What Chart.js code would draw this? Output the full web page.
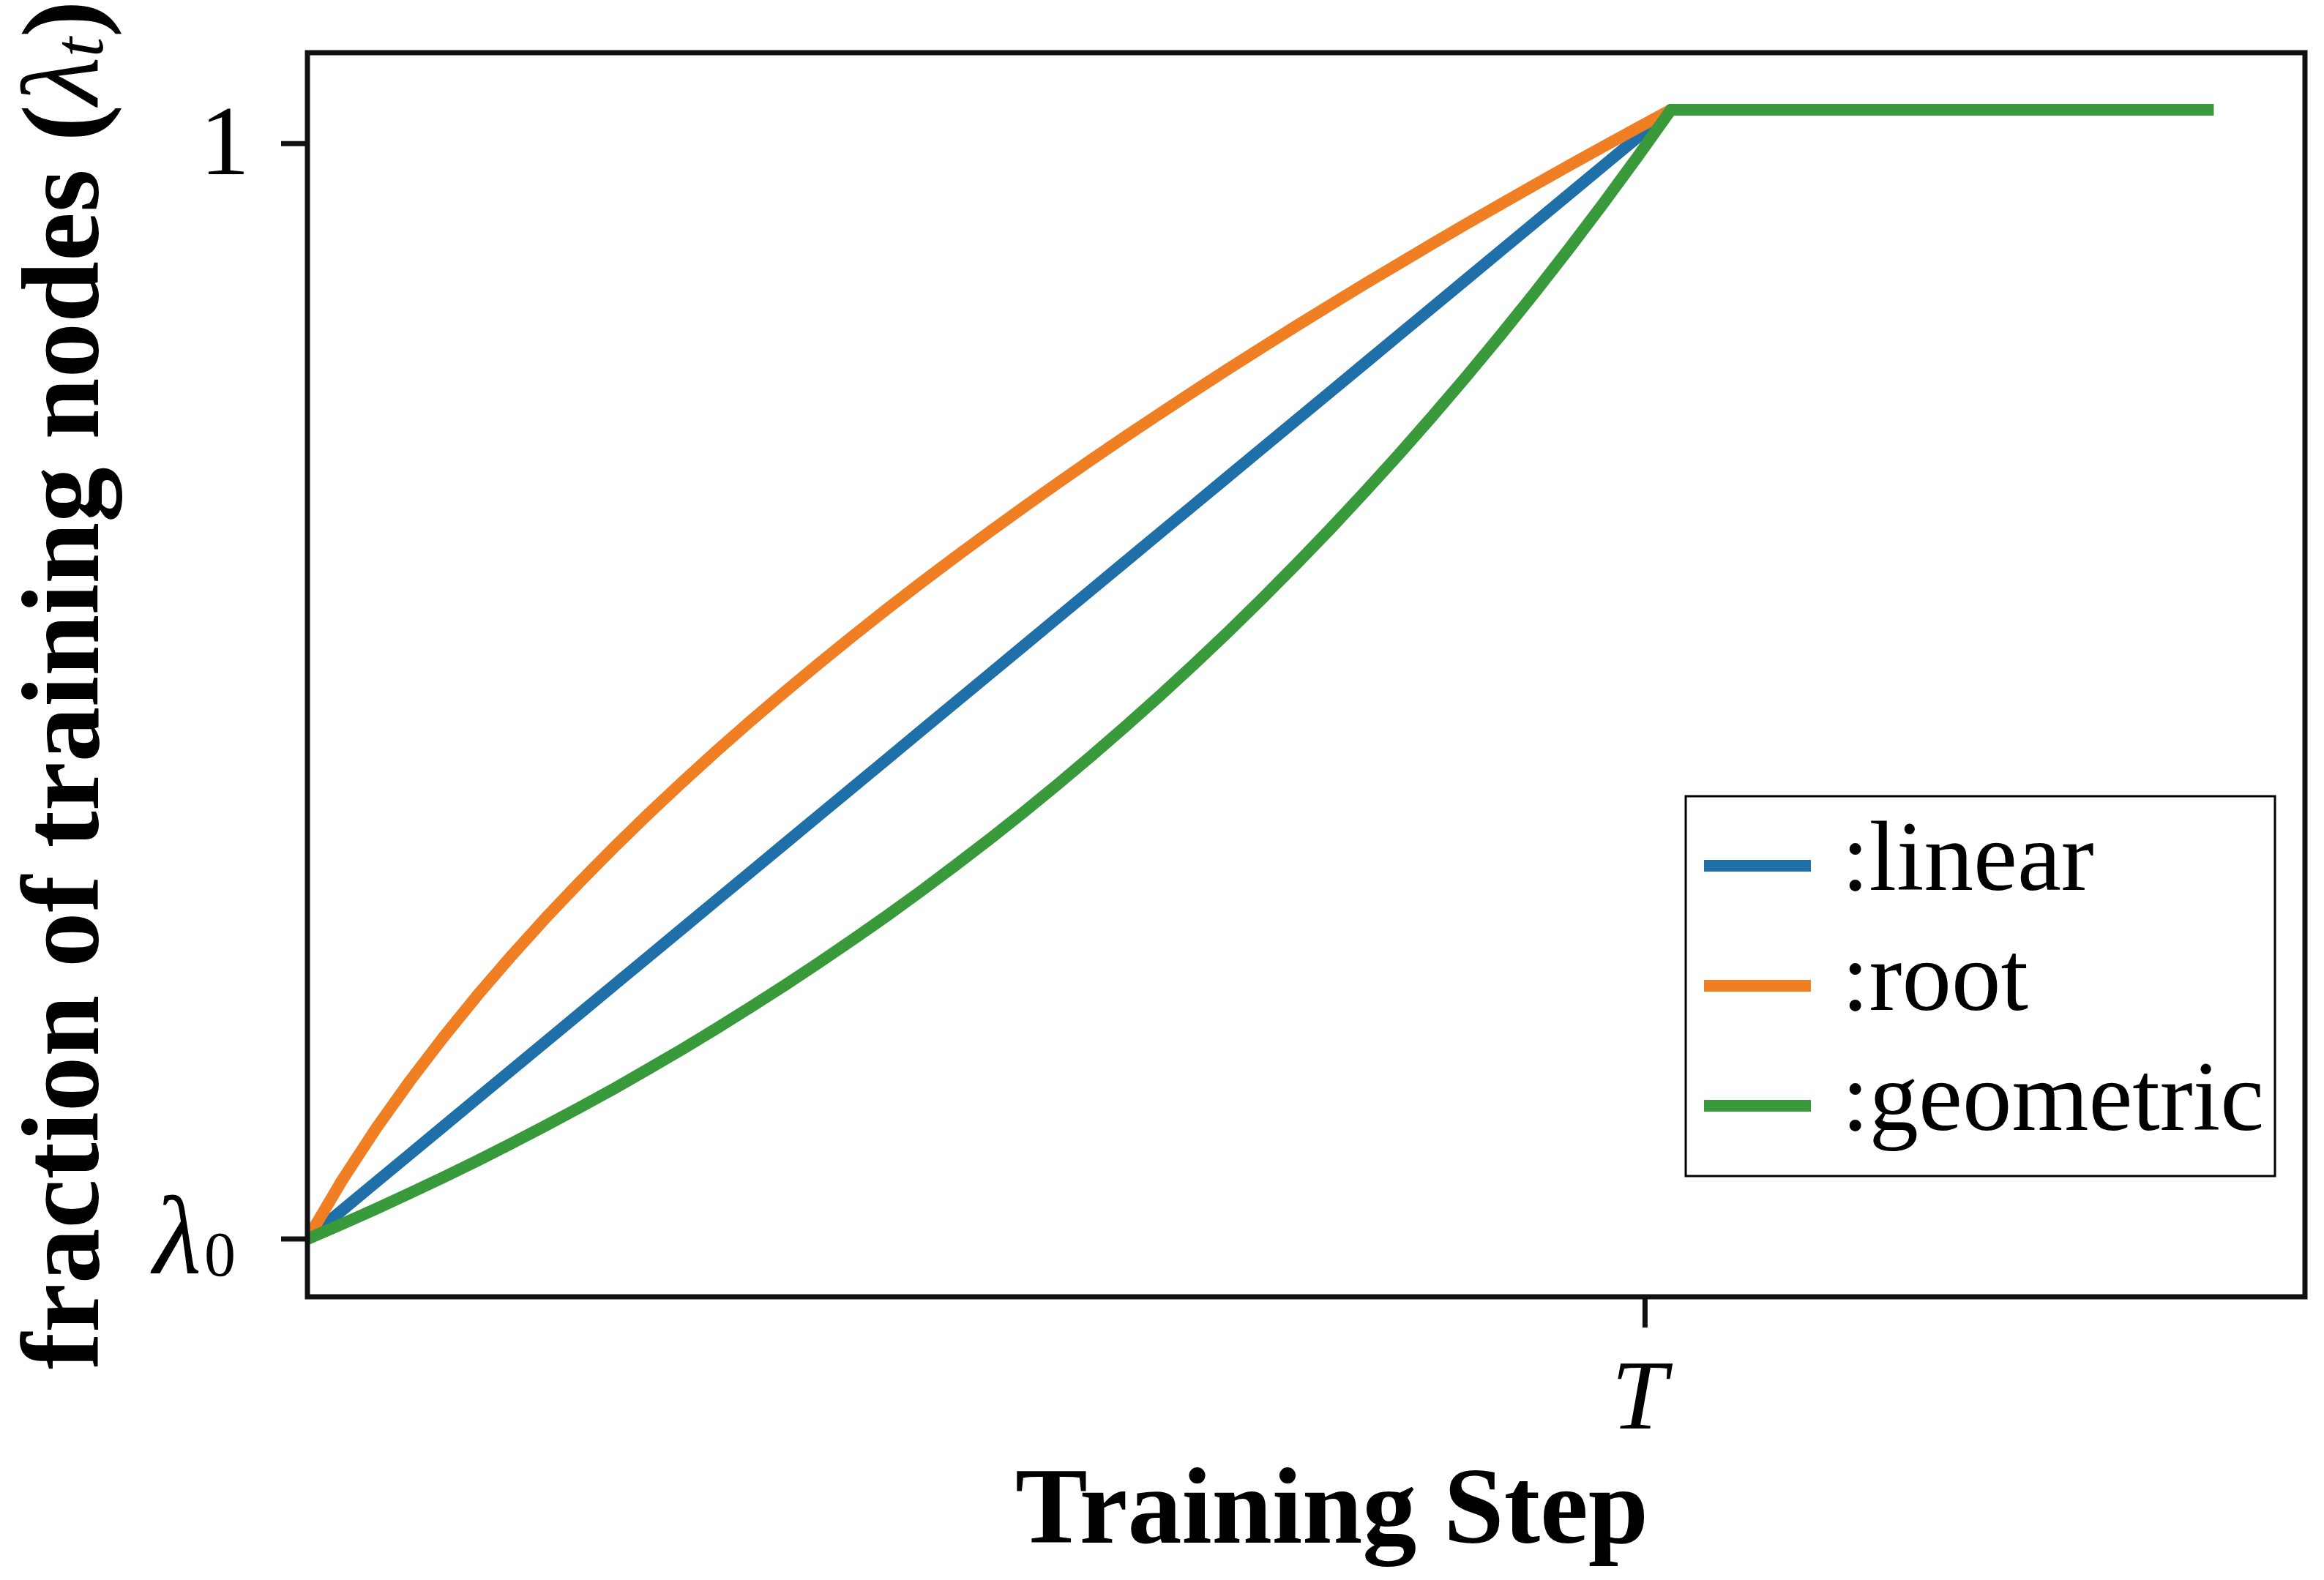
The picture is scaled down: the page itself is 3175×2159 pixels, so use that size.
<!DOCTYPE html>
<html>
<head>
<meta charset="utf-8">
<script src="https://cdn.jsdelivr.net/npm/chart.js@4.4.0/dist/chart.umd.min.js"></script>
<style>
  html, body { margin: 0; padding: 0; background: #fff; }
  #wrap { width: 3175px; height: 2159px; }
</style>
</head>
<body>
<div id="wrap"><canvas id="canvas" width="3175" height="2159"></canvas></div>
<script>
"use strict";

// training steps (kink at step 1000, flat part runs to the end)
var steps = [0, 25, 50, 75, 100, 125, 150, 175, 200, 225, 250, 275, 300, 325, 350, 375, 400,
             425, 450, 475, 500, 525, 550, 575, 600, 625, 650, 675, 700, 725, 750, 775, 800,
             825, 850, 875, 900, 925, 950, 975, 1000, 1398];

var linearVals = [0.300, 0.3175, 0.335, 0.3525, 0.370, 0.3875, 0.405, 0.4225, 0.440, 0.4575, 0.475,
                  0.4925, 0.510, 0.5275, 0.545, 0.5625, 0.580, 0.5975, 0.615, 0.6325, 0.650,
                  0.6675, 0.685, 0.7025, 0.720, 0.7375, 0.755, 0.7725, 0.790, 0.8075, 0.825,
                  0.8425, 0.860, 0.8775, 0.895, 0.9125, 0.930, 0.9475, 0.965, 0.9825, 1.000, 1.000];
var rootVals = [0.300, 0.3358, 0.3681, 0.3978, 0.4254, 0.4514, 0.4759, 0.4993, 0.5215, 0.5429, 0.5635,
                0.5833, 0.6025, 0.6211, 0.6391, 0.6567, 0.6738, 0.6905, 0.7068, 0.7227, 0.7382,
                0.7535, 0.7684, 0.7831, 0.7975, 0.8116, 0.8255, 0.8392, 0.8526, 0.8659, 0.8789,
                0.8918, 0.9044, 0.9169, 0.9293, 0.9414, 0.9534, 0.9653, 0.9770, 0.9886, 1.000, 1.000];
var geometricVals = [0.300, 0.3092, 0.3186, 0.3284, 0.3384, 0.3487, 0.3594, 0.3704, 0.3817, 0.3933, 0.4054,
                     0.4177, 0.4305, 0.4437, 0.4572, 0.4712, 0.4856, 0.5004, 0.5157, 0.5315, 0.5477,
                     0.5644, 0.5817, 0.5995, 0.6178, 0.6366, 0.6561, 0.6761, 0.6968, 0.7181, 0.7400,
                     0.7627, 0.7860, 0.8100, 0.8347, 0.8602, 0.8865, 0.9136, 0.9415, 0.9703, 1.000, 1.000];

var seriesLabels = [':linear', ':root', ':geometric'];
var seriesColors = ['#1f6fa8', '#ef7f22', '#389a3a'];

var yTickValues = [0.3, 0.979];
var yTickLabels = [['λ', '0'], ['1', '']];
var xTickValues = [981];
var xTickLabels = ['T'];

var serif = "'Liberation Serif', 'Times New Roman', serif";

function pts(vals) {
  return steps.map(function(s, i) { return { x: s, y: vals[i] }; });
}

var decor = {
  id: 'decor',
  afterDatasetsDraw: function(chart) {
    var ctx = chart.ctx, a = chart.chartArea;
    var xs = chart.scales.x, ys = chart.scales.y;
    ctx.save();

    // frame
    ctx.strokeStyle = '#111';
    ctx.lineWidth = 7;
    ctx.strokeRect(a.left, a.top, a.right - a.left, a.bottom - a.top);

    // y ticks + labels
    ctx.fillStyle = '#000';
    ctx.textBaseline = 'alphabetic';
    yTickValues.forEach(function(v, i) {
      var py = ys.getPixelForValue(v);
      ctx.beginPath();
      ctx.moveTo(a.left - 36, py);
      ctx.lineTo(a.left, py);
      ctx.stroke();
      var lab = yTickLabels[i];
      if (lab[1]) {
        ctx.font = '86px ' + serif;
        var w0 = ctx.measureText(lab[1]).width;
        ctx.textAlign = 'right';
        ctx.fillText(lab[1], 322, py + 50);
        ctx.font = 'italic 152px ' + serif;
        ctx.fillText(lab[0], 322 - w0 - 4, py + 47);
      } else {
        ctx.font = '136px ' + serif;
        ctx.textAlign = 'right';
        ctx.fillText(lab[0], 341, py + 42);
      }
    });

    // x ticks + labels
    xTickValues.forEach(function(v, i) {
      var px = xs.getPixelForValue(v);
      ctx.beginPath();
      ctx.moveTo(px, a.bottom);
      ctx.lineTo(px, a.bottom + 42);
      ctx.stroke();
      ctx.font = 'italic 136px ' + serif;
      ctx.textAlign = 'center';
      ctx.fillText(xTickLabels[i], px - 8, 1952);
    });

    // x title
    ctx.font = 'bold 148px ' + serif;
    ctx.textAlign = 'center';
    ctx.fillText('Training Step', (a.left + a.right) / 2 + 35, 2108);

    // y title with lambda_t
    ctx.save();
    ctx.translate(134, 936);
    ctx.rotate(-Math.PI / 2);
    ctx.textAlign = 'left';
    var parts = [
      ['fraction of training nodes (', 'bold 151px ' + serif, 0],
      ['λ', 'italic 151px ' + serif, 0],
      ['t', 'italic 97px ' + serif, 6],
      [')', 'bold 151px ' + serif, 0]
    ];
    var total = 0;
    parts.forEach(function(p) { ctx.font = p[1]; p.push(ctx.measureText(p[0]).width); total += p[3]; });
    var cx = -total / 2;
    parts.forEach(function(p) {
      ctx.font = p[1];
      ctx.fillText(p[0], cx, p[2]);
      cx += p[3];
    });
    ctx.restore();

    // legend
    ctx.lineWidth = 3;
    ctx.strokeStyle = '#000';
    ctx.strokeRect(2303, 1088, 805, 519);
    chart.data.datasets.forEach(function(ds, i) {
      var ly = 1183 + i * 164;
      ctx.strokeStyle = ds.borderColor;
      ctx.lineWidth = 16;
      ctx.beginPath();
      ctx.moveTo(2328, ly);
      ctx.lineTo(2474, ly);
      ctx.stroke();
      ctx.fillStyle = '#000';
      ctx.font = '135px ' + serif;
      ctx.textAlign = 'left';
      ctx.fillText(ds.label, 2516, ly + 33);
    });

    ctx.restore();
  }
};

var ctx = document.getElementById('canvas').getContext('2d');
window.myLine = new Chart(ctx, {
  type: 'line',
  data: {
    datasets: [{
      label: seriesLabels[0],
      data: pts(linearVals),
      borderColor: seriesColors[0],
      order: 3
    }, {
      label: seriesLabels[1],
      data: pts(rootVals),
      borderColor: seriesColors[1],
      order: 2
    }, {
      label: seriesLabels[2],
      data: pts(geometricVals),
      borderColor: seriesColors[2],
      order: 1
    }]
  },
  options: {
    responsive: false,
    animation: false,
    devicePixelRatio: 1,
    layout: { padding: { left: 420, top: 72, right: 26, bottom: 387 } },
    plugins: {
      legend: { display: false },
      tooltip: { enabled: false }
    },
    elements: {
      point: { radius: 0 },
      line: { tension: 0, borderWidth: 16, borderCapStyle: 'butt', borderJoinStyle: 'round', fill: false }
    },
    scales: {
      x: { type: 'linear', min: 0, max: 1465, display: false },
      y: { type: 'linear', min: 0.2642, max: 1.0354, display: false }
    }
  },
  plugins: [decor]
});
</script>
</body>
</html>
